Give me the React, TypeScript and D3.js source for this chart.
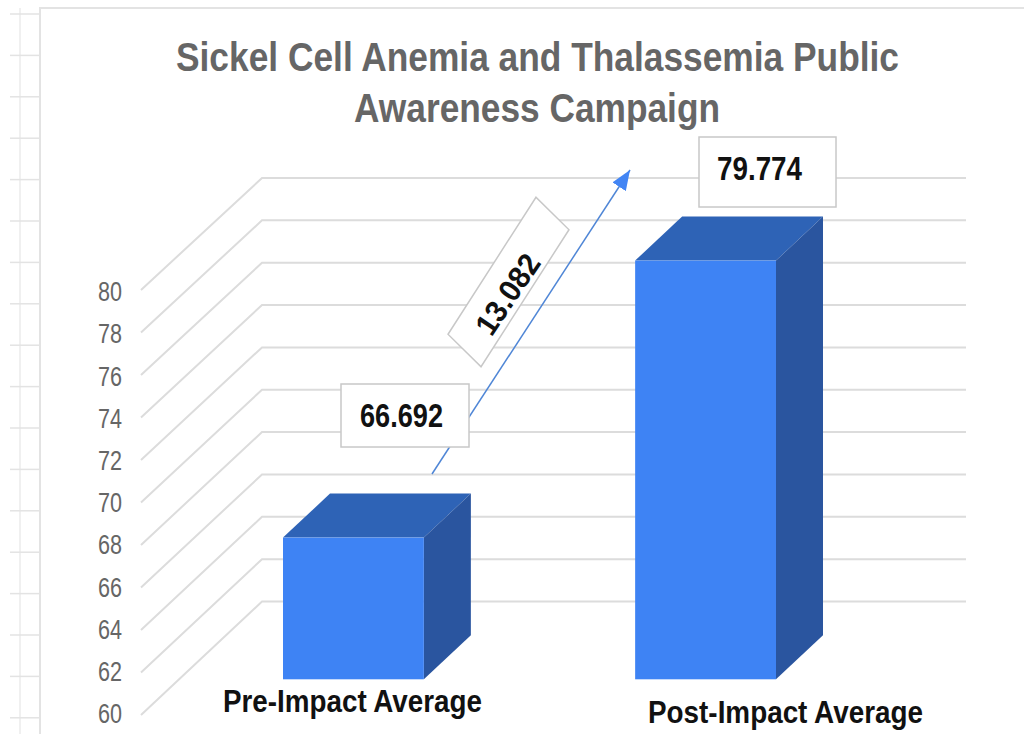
import React, { useEffect, useRef } from 'react';
import * as d3 from 'd3';

const titleLines = ['Sickel Cell Anemia and Thalassemia Public', 'Awareness Campaign'];
const categories = ['Pre-Impact Average', 'Post-Impact Average'];
const barValues = [66.692, 79.774];
const barLabels = ['66.692', '79.774'];
const changeLabel = '13.082';
const yTicks = [60, 62, 64, 66, 68, 70, 72, 74, 76, 78, 80];

const FONT = '"Liberation Sans", Arial, sans-serif';

export default function App() {
  const ref = useRef<SVGSVGElement>(null);

  useEffect(() => {
    const svg = d3.select(ref.current);
    svg.selectAll('*').remove();

    // spreadsheet lines showing behind the chart in the screenshot
    const sheet = svg.append('g').attr('stroke', '#e3e3e3').attr('fill', 'none');
    sheet.append('path').attr('d', 'M40,734V8H1024').attr('stroke-width', 2);
    sheet.append('line').attr('x1', 20).attr('x2', 20).attr('y1', 8).attr('y2', 734).attr('stroke', '#ebebeb').attr('stroke-width', 1.5);
    sheet.selectAll('line.row')
      .data(d3.range(0, 18))
      .enter()
      .append('line')
      .attr('class', 'row')
      .attr('stroke-width', 1.5)
      .attr('x1', 10)
      .attr('x2', 40)
      .attr('y1', d => 14 + d * 41.4)
      .attr('y2', d => 14 + d * 41.4);

    // front plane (axis side), back wall and bar plane of the 3d box
    const yFront = d3.scaleLinear().domain([60, 80]).range([715, 290]);
    const yWall = d3.scaleLinear().domain([60, 80]).range([601.5, 178]);
    const yBar = d3.scaleLinear().domain([60, 80]).range([679.3, 255.8]);
    const yLabel = d3.scaleLinear().domain([60, 80]).range([714, 292]);
    const x = d3.scaleBand().domain(categories).range([283, 776]).paddingInner(0.6);
    const depthX = 47;
    const depthY = 44;

    // gridlines
    svg.append('g')
      .selectAll('path')
      .data(yTicks)
      .enter()
      .append('path')
      .attr('fill', 'none')
      .attr('stroke', '#dcdcdc')
      .attr('stroke-width', 2)
      .attr('d', d => `M141,${yFront(d)}L262,${yWall(d)}H966`);

    // y axis
    const axis = svg.append('g')
      .attr('transform', 'translate(141,0)')
      .call(d3.axisLeft(yLabel).tickValues(yTicks).tickSize(0).tickPadding(19));
    axis.select('.domain').remove();
    axis.selectAll('text')
      .attr('font-family', FONT)
      .attr('font-size', 27)
      .attr('fill', '#666666')
      .attr('textLength', 24)
      .attr('lengthAdjust', 'spacingAndGlyphs');

    // bars
    const bars = svg.append('g')
      .selectAll('g')
      .data(categories)
      .enter()
      .append('g');
    const left = (d: string) => x(d) as number;
    const right = (d: string) => left(d) + x.bandwidth();
    const top = (_: string, i: number) => yBar(barValues[i]);
    bars.append('path')
      .attr('fill', '#2e63b6')
      .attr('d', (d, i) => `M${left(d)},${top(d, i)}l${depthX},${-depthY}H${right(d) + depthX}l${-depthX},${depthY}Z`);
    bars.append('path')
      .attr('fill', '#2a559f')
      .attr('d', (d, i) => `M${right(d)},${top(d, i)}l${depthX},${-depthY}V${yBar(60) - depthY}l${-depthX},${depthY}Z`);
    bars.append('rect')
      .attr('fill', '#3e83f4')
      .attr('x', d => left(d))
      .attr('y', (d, i) => top(d, i))
      .attr('width', x.bandwidth())
      .attr('height', (d, i) => yBar(60) - top(d, i));

    // title
    svg.append('g')
      .selectAll('text')
      .data(titleLines)
      .enter()
      .append('text')
      .text(d => d)
      .attr('x', (d, i) => [176, 354][i])
      .attr('y', (d, i) => [71, 122][i])
      .attr('textLength', (d, i) => [723, 366][i])
      .attr('lengthAdjust', 'spacingAndGlyphs')
      .attr('font-family', FONT)
      .attr('font-weight', 'bold')
      .attr('font-size', 40)
      .attr('fill', '#666666');

    // category labels are placed by hand in the original, not centred
    svg.append('g')
      .selectAll('text')
      .data(categories)
      .enter()
      .append('text')
      .text(d => d)
      .attr('x', (d, i) => [223, 648][i])
      .attr('y', (d, i) => [712, 723][i])
      .attr('textLength', (d, i) => [259, 275][i])
      .attr('lengthAdjust', 'spacingAndGlyphs')
      .attr('font-family', FONT)
      .attr('font-weight', 'bold')
      .attr('font-size', 31)
      .attr('fill', '#111111');

    // arrow
    svg.append('defs')
      .append('marker')
      .attr('id', 'arrow-head')
      .attr('markerUnits', 'userSpaceOnUse')
      .attr('viewBox', '0 0 20 16')
      .attr('refX', 20)
      .attr('refY', 8)
      .attr('markerWidth', 20)
      .attr('markerHeight', 16)
      .attr('orient', 'auto')
      .append('path')
      .attr('d', 'M0,0L20,8L0,16Z')
      .attr('fill', '#4285f4');
    svg.append('line')
      .attr('x1', 432)
      .attr('y1', 474)
      .attr('x2', 630)
      .attr('y2', 170)
      .attr('stroke', '#4f86d6')
      .attr('stroke-width', 1.5)
      .attr('marker-end', 'url(#arrow-head)');

    // value boxes
    const boxes = [
      { x: 341, y: 384, w: 128, h: 63, tx: 360, ty: 427, tl: 83 },
      { x: 699, y: 137, w: 137, h: 70, tx: 717, ty: 180, tl: 85 },
    ];
    boxes.forEach((b, i) => {
      svg.append('rect')
        .attr('x', b.x)
        .attr('y', b.y)
        .attr('width', b.w)
        .attr('height', b.h)
        .attr('fill', '#ffffff')
        .attr('stroke', '#c8c8c8')
        .attr('stroke-width', 1.5);
      svg.append('text')
        .text(barLabels[i])
        .attr('x', b.tx)
        .attr('y', b.ty)
        .attr('textLength', b.tl)
        .attr('lengthAdjust', 'spacingAndGlyphs')
        .attr('font-family', FONT)
        .attr('font-weight', 'bold')
        .attr('font-size', 33)
        .attr('fill', '#111111');
    });

    // rotated change label along the arrow, the box is a bit skewed in the screenshot
    svg.append('rect')
      .attr('transform', 'matrix(0.543,-0.846,0.733,0.722,508.5,282)')
      .attr('x', -81)
      .attr('y', -22.5)
      .attr('width', 162)
      .attr('height', 45)
      .attr('fill', '#ffffff')
      .attr('stroke', '#c8c8c8')
      .attr('stroke-width', 1.5);
    svg.append('text')
      .text(changeLabel)
      .attr('transform', 'translate(507.5,294) rotate(-56)')
      .attr('x', -45)
      .attr('y', 11)
      .attr('textLength', 90)
      .attr('lengthAdjust', 'spacingAndGlyphs')
      .attr('font-family', FONT)
      .attr('font-weight', 'bold')
      .attr('font-size', 31)
      .attr('fill', '#111111');
  }, []);

  return (
    <svg
      ref={ref}
      width={1024}
      height={734}
      viewBox="0 0 1024 734"
      style={{ position: 'absolute', left: 0, top: 0, background: '#ffffff' }}
    />
  );
}
